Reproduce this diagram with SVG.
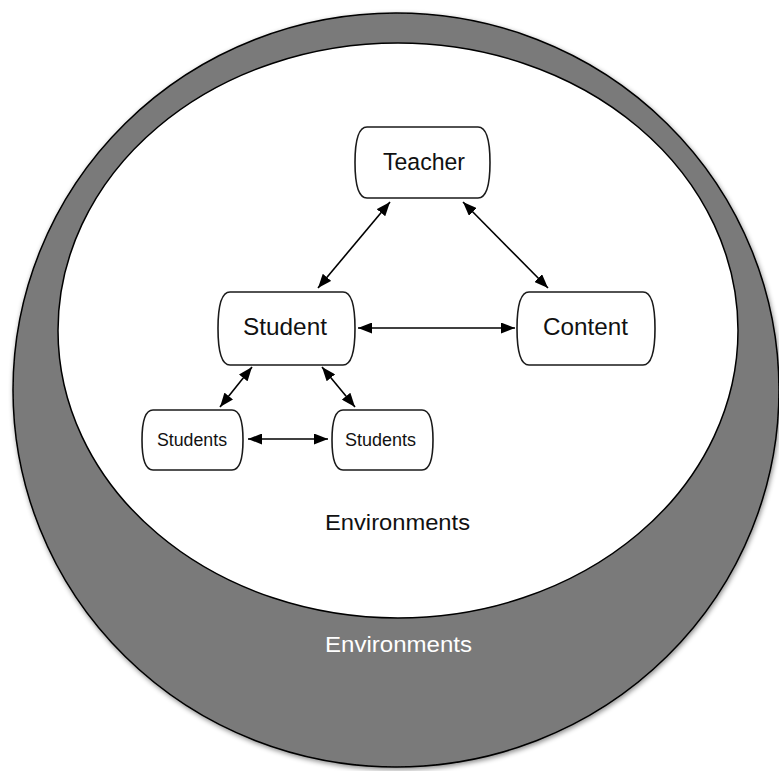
<svg xmlns="http://www.w3.org/2000/svg" width="779" height="771" viewBox="0 0 779 771">
  <style>
    .node { fill: #ffffff; stroke: #1a1a1a; stroke-width: 1.6; }
    .lbl { font-family: "Liberation Sans", Arial, sans-serif; fill: #111111; }
    .big { font-size: 24.5px; }
    .small { font-size: 17.5px; }
    .env { font-size: 22px; }
    .conn { stroke: #000000; stroke-width: 1.6; fill: none; marker-start: url(#ah); marker-end: url(#ah); }
  </style>
  <defs>
    <marker id="ah" viewBox="0 0 14 11" refX="14" refY="5.5" markerWidth="14" markerHeight="11" markerUnits="userSpaceOnUse" orient="auto-start-reverse">
      <path d="M0,0 L14,5.5 L0,11 Z" fill="#000000"/>
    </marker>
    <filter id="shadow" x="-5%" y="-5%" width="110%" height="110%">
      <feDropShadow dx="1" dy="2" stdDeviation="2.5" flood-color="#000000" flood-opacity="0.45"/>
    </filter>
  </defs>
  <rect width="779" height="771" fill="#ffffff"/>

  <g id="outer-environment">
    <ellipse cx="396" cy="390" rx="383" ry="377" fill="#7a7a7a" stroke="#000000" stroke-width="1.5" filter="url(#shadow)"/>
    <text class="lbl env" x="325" y="652" textLength="147" lengthAdjust="spacingAndGlyphs" style="fill:#ffffff">Environments</text>
  </g>

  <g id="inner-environment">
    <ellipse cx="398" cy="330.5" rx="340" ry="287.5" fill="#ffffff" stroke="#000000" stroke-width="1.5"/>
    <text class="lbl env" x="325" y="530" textLength="145" lengthAdjust="spacingAndGlyphs">Environments</text>
  </g>

  <g id="connectors">
    <line class="conn" x1="390" y1="202" x2="318" y2="288"/>
    <line class="conn" x1="463" y1="202" x2="548" y2="288"/>
    <line class="conn" x1="358" y1="328" x2="515" y2="328"/>
    <line class="conn" x1="252" y1="367" x2="220" y2="407"/>
    <line class="conn" x1="322" y1="367" x2="355" y2="407"/>
    <line class="conn" x1="248" y1="439" x2="328" y2="439"/>
  </g>

  <g id="teacher">
    <path class="node" d="M367,127 H478 C487,127 490,141 490,162.5 C490,184 487,198 478,198 H367 C358,198 355,184 355,162.5 C355,141 358,127 367,127 Z"/>
    <text class="lbl big" x="383" y="170" textLength="82" lengthAdjust="spacingAndGlyphs">Teacher</text>
  </g>

  <g id="student">
    <path class="node" d="M230,292 H343 C352,292 355,306 355,328.5 C355,351 352,365 343,365 H230 C221,365 218,351 218,328.5 C218,306 221,292 230,292 Z"/>
    <text class="lbl big" x="243" y="335" textLength="84" lengthAdjust="spacingAndGlyphs">Student</text>
  </g>

  <g id="content">
    <path class="node" d="M529,292 H643 C652,292 655,306 655,328.5 C655,351 652,365 643,365 H529 C520,365 517,351 517,328.5 C517,306 520,292 529,292 Z"/>
    <text class="lbl big" x="543" y="335" textLength="85" lengthAdjust="spacingAndGlyphs">Content</text>
  </g>

  <g id="students-left">
    <path class="node" d="M153,410 H232 C240,410 243,422 243,440 C243,458 240,470 232,470 H153 C145,470 142,458 142,440 C142,422 145,410 153,410 Z"/>
    <text class="lbl small" x="157" y="446" textLength="70" lengthAdjust="spacingAndGlyphs">Students</text>
  </g>

  <g id="students-right">
    <path class="node" d="M343,410 H422 C430,410 433,422 433,440 C433,458 430,470 422,470 H343 C335,470 332,458 332,440 C332,422 335,410 343,410 Z"/>
    <text class="lbl small" x="345" y="446" textLength="71" lengthAdjust="spacingAndGlyphs">Students</text>
  </g>
</svg>
